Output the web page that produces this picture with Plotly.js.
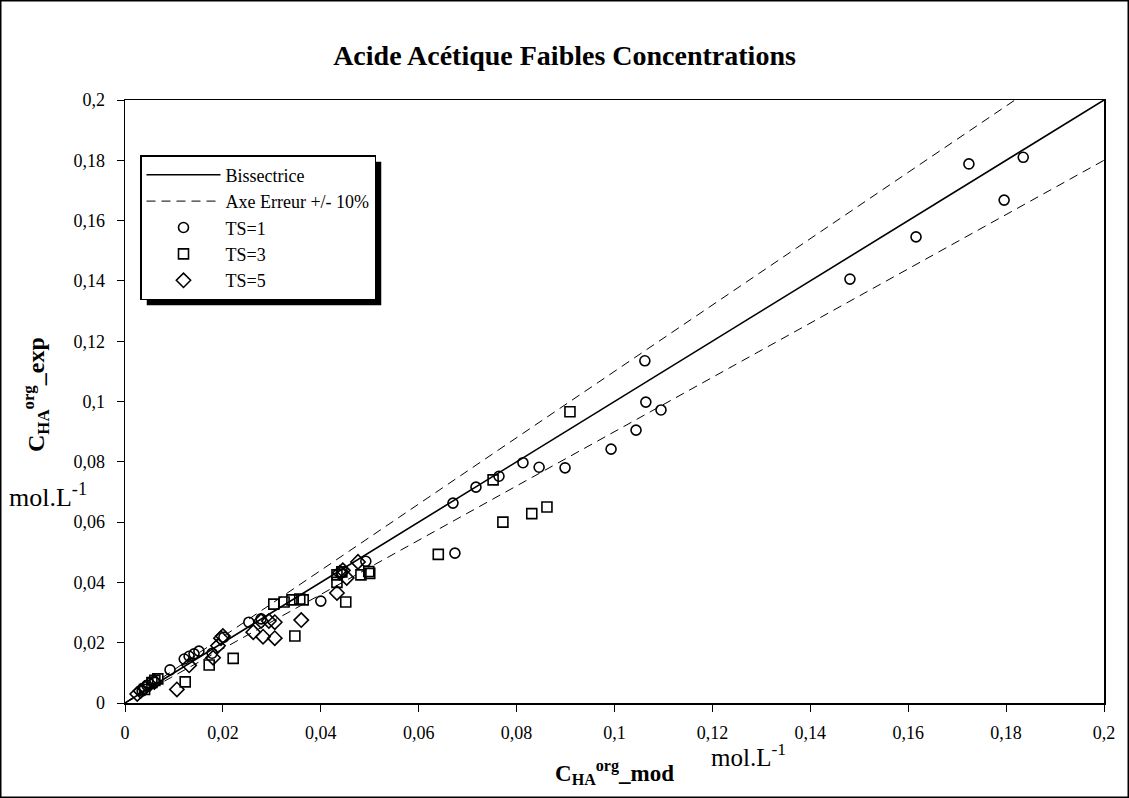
<!DOCTYPE html>
<html>
<head>
<meta charset="utf-8">
<script src="https://cdn.plot.ly/plotly-3.0.1.min.js"></script>
<style>
  html, body { margin: 0; padding: 0; background: #fff; }
  #chart { width: 1129px; height: 798px; }
</style>
</head>
<body>
<div id="chart"></div>
<script>
// ---- data ----
const ts1X = [0.0035, 0.0045, 0.0060, 0.0092, 0.0121, 0.0131, 0.0141, 0.0151, 0.0178, 0.0202, 0.0253, 0.0278, 0.0400, 0.0443, 0.0492, 0.0670, 0.0674, 0.0717, 0.0764, 0.0813, 0.0846, 0.0899, 0.0993, 0.1044, 0.1062, 0.1064, 0.1095, 0.1481, 0.1616, 0.1724, 0.1796, 0.1835];
const ts1Y = [0.0040, 0.0058, 0.0070, 0.0110, 0.0146, 0.0155, 0.0163, 0.0172, 0.0165, 0.0218, 0.0268, 0.0279, 0.0338, 0.0432, 0.0470, 0.0663, 0.0497, 0.0716, 0.0752, 0.0797, 0.0782, 0.0780, 0.0842, 0.0905, 0.1135, 0.0998, 0.0972, 0.1406, 0.1546, 0.1788, 0.1668, 0.1810];

const ts3X = [0.0040, 0.0055, 0.0061, 0.0067, 0.0123, 0.0172, 0.0221, 0.0304, 0.0325, 0.0341, 0.0347, 0.0357, 0.0364, 0.0433, 0.0433, 0.0443, 0.0451, 0.0482, 0.0498, 0.0500, 0.0640, 0.0752, 0.0772, 0.0831, 0.0862, 0.0909];
const ts3Y = [0.0045, 0.0068, 0.0075, 0.0080, 0.0070, 0.0126, 0.0148, 0.0328, 0.0335, 0.0342, 0.0222, 0.0345, 0.0342, 0.0400, 0.0425, 0.0435, 0.0335, 0.0425, 0.0436, 0.0430, 0.0493, 0.0740, 0.0600, 0.0628, 0.0650, 0.0966];

const ts5X = [0.0025, 0.0032, 0.0040, 0.0050, 0.0060, 0.0106, 0.0131, 0.0180, 0.0190, 0.0196, 0.0200, 0.0262, 0.0278, 0.0282, 0.0294, 0.0306, 0.0306, 0.0360, 0.0433, 0.0439, 0.0445, 0.0453, 0.0476];
const ts5Y = [0.0030, 0.0040, 0.0050, 0.0062, 0.0070, 0.0045, 0.0125, 0.0150, 0.0190, 0.0215, 0.0222, 0.0235, 0.0272, 0.0220, 0.0272, 0.0268, 0.0215, 0.0275, 0.0365, 0.0432, 0.0440, 0.0415, 0.0468];

const refX = [0, 0.2];
const bisFactor = 1.0;
const errUpFactor = 1.1;
const errLowFactor = 0.9;

const xTickVals = [0, 0.02, 0.04, 0.06, 0.08, 0.1, 0.12, 0.14, 0.16, 0.18, 0.2];
const yTickVals = [0, 0.02, 0.04, 0.06, 0.08, 0.1, 0.12, 0.14, 0.16, 0.18, 0.2];

// ---- chart ----
const FONT = "Liberation Serif, DejaVu Serif, serif";
const markerLine = {color: '#000', width: 1.6};

const traces = [
  {x: refX, y: refX.map(v => v * bisFactor), mode: 'lines', name: 'Bissectrice',
   line: {color: '#000', width: 1.6}, legendgroup: 'a', hoverinfo: 'skip'},
  {x: refX, y: refX.map(v => v * errUpFactor), mode: 'lines', name: 'Axe Erreur +/- 10%',
   line: {color: '#000', width: 1, dash: '9px,6px'}, legendgroup: 'b'},
  {x: refX, y: refX.map(v => v * errLowFactor), mode: 'lines', name: 'Axe Erreur -10%',
   line: {color: '#000', width: 1, dash: '9px,6px'}, showlegend: false, legendgroup: 'b'},
  {x: ts1X, y: ts1Y, mode: 'markers', name: 'TS=1', legendgroup: 'c',
   marker: {symbol: 'circle-open', size: 10, color: '#000', line: markerLine}},
  {x: ts3X, y: ts3Y, mode: 'markers', name: 'TS=3', legendgroup: 'd',
   marker: {symbol: 'square-open', size: 10, color: '#000', line: markerLine}},
  {x: ts5X, y: ts5Y, mode: 'markers', name: 'TS=5', legendgroup: 'e',
   marker: {symbol: 'diamond-open', size: 11, color: '#000', line: markerLine}}
];

const L = 125, R = 25, T = 100, B = 95;
const W = 1129, H = 798;
const pw = W - L - R, ph = H - T - B;
const px2x = p => (p - L) / pw;
const px2y = p => (H - B - p) / ph;

const layout = {
  width: W, height: H,
  margin: {l: L, r: R, t: T, b: B},
  paper_bgcolor: '#fff', plot_bgcolor: '#fff',
  separators: ', ',
  font: {family: FONT, size: 17, color: '#000'},
  title: {text: '<b>Acide Acétique Faibles Concentrations</b>', font: {family: FONT, size: 28, color: '#000'},
          x: 0.5, xanchor: 'center', y: 1 - 55 / H, yanchor: 'middle', xref: 'container', yref: 'container'},
  showlegend: true,
  legend: {x: px2x(140), y: px2y(155), xanchor: 'left', yanchor: 'top',
           bgcolor: '#fff', bordercolor: '#000', borderwidth: 1.5,
           font: {family: FONT, size: 18, color: '#000'},
           itemwidth: 74, tracegroupgap: 0, traceorder: 'grouped'},
  xaxis: {range: [0, 0.2], tickvals: xTickVals, ticks: 'outside', ticklen: 7, tickwidth: 1,
          tickcolor: '#000', showgrid: false, zeroline: false, showline: true, linecolor: '#000',
          linewidth: 1.5, mirror: true, tickfont: {family: FONT, size: 18}, fixedrange: true,
          ticklabelstandoff: 6},
  yaxis: {range: [0, 0.2], tickvals: yTickVals, ticks: 'outside', ticklen: 7, tickwidth: 1,
          tickcolor: '#000', showgrid: false, zeroline: false, showline: true, linecolor: '#000',
          linewidth: 1.5, mirror: true, tickfont: {family: FONT, size: 18}, fixedrange: true,
          ticklabelstandoff: 8},
  shapes: [
    {type: 'rect', xref: 'paper', yref: 'paper', x0: px2x(0.75), x1: px2x(W - 0.75),
     y0: px2y(H - 0.75), y1: px2y(0.75), line: {color: '#000', width: 1.5}, fillcolor: 'rgba(0,0,0,0)', layer: 'below'},
    {type: 'rect', xref: 'paper', yref: 'paper', x0: px2x(146), x1: px2x(393), y0: px2y(303), y1: px2y(161),
     fillcolor: '#000', line: {width: 0}, layer: 'above'}
  ],
  annotations: [
    {text: '<b>C<sub>HA</sub><sup>org</sup>_exp</b>', xref: 'paper', yref: 'paper', x: px2x(36), y: px2y(395),
     xanchor: 'center', yanchor: 'middle', textangle: -90, showarrow: false, font: {family: FONT, size: 24}},
    {text: 'mol.L<sup>-1</sup>', xref: 'paper', yref: 'paper', x: px2x(48), y: px2y(495),
     xanchor: 'center', yanchor: 'middle', showarrow: false, font: {family: FONT, size: 26}},
    {text: '<b>C<sub>HA</sub><sup>org</sup>_mod</b>', xref: 'paper', yref: 'paper', x: px2x(614), y: px2y(772),
     xanchor: 'center', yanchor: 'middle', showarrow: false, font: {family: FONT, size: 23}},
    {text: 'mol.L<sup>-1</sup>', xref: 'paper', yref: 'paper', x: px2x(748), y: px2y(755),
     xanchor: 'center', yanchor: 'middle', showarrow: false, font: {family: FONT, size: 25}}
  ]
};

Plotly.newPlot('chart', traces, layout, {displayModeBar: false, staticPlot: true}).then(gd => {
  // place drop shadow behind the legend box according to its rendered size
  const bg = gd.querySelector('.legend .bg');
  const root = gd.getBoundingClientRect();
  if (bg) {
    const r = bg.getBoundingClientRect();
    const left = r.left - root.left, top = r.top - root.top;
    return Plotly.relayout(gd, {
      'shapes[1].x0': px2x(left + 6), 'shapes[1].x1': px2x(left + r.width + 6),
      'shapes[1].y0': px2y(top + r.height + 6), 'shapes[1].y1': px2y(top + 6)
    });
  }
});
</script>
</body>
</html>
